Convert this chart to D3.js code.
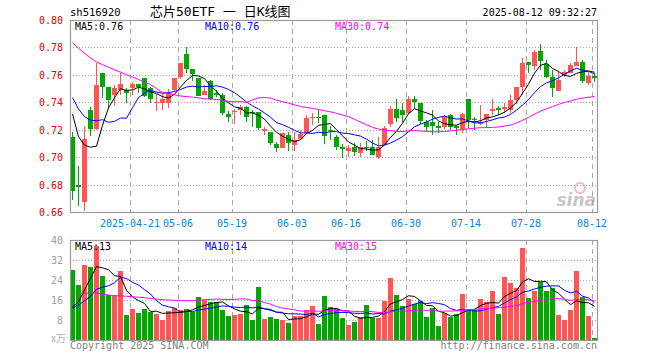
<!DOCTYPE html>
<html><head><meta charset="utf-8">
<script src="https://cdn.jsdelivr.net/npm/d3@7"></script>
<style>body{margin:0;background:#fff}svg{display:block}</style>
</head><body><svg id="c" width="660" height="360"></svg>
<script>
const dates = ["2025-04-07","2025-04-08","2025-04-09","2025-04-10","2025-04-11","2025-04-14","2025-04-15","2025-04-16","2025-04-17","2025-04-18","2025-04-21","2025-04-22","2025-04-23","2025-04-24","2025-04-25","2025-04-28","2025-04-29","2025-04-30",
"2025-05-06","2025-05-07","2025-05-08","2025-05-09","2025-05-12","2025-05-13","2025-05-14","2025-05-15","2025-05-16","2025-05-19","2025-05-20","2025-05-21","2025-05-22","2025-05-23","2025-05-26","2025-05-27","2025-05-28","2025-05-29","2025-05-30",
"2025-06-03","2025-06-04","2025-06-05","2025-06-06","2025-06-09","2025-06-10","2025-06-11","2025-06-12","2025-06-13","2025-06-16","2025-06-17","2025-06-18","2025-06-19","2025-06-20","2025-06-23","2025-06-24","2025-06-25","2025-06-26","2025-06-27","2025-06-30",
"2025-07-01","2025-07-02","2025-07-03","2025-07-04","2025-07-07","2025-07-08","2025-07-09","2025-07-10","2025-07-11","2025-07-14","2025-07-15","2025-07-16","2025-07-17","2025-07-18","2025-07-21","2025-07-22","2025-07-23","2025-07-24","2025-07-25","2025-07-28","2025-07-29","2025-07-30","2025-07-31",
"2025-08-01","2025-08-04","2025-08-05","2025-08-06","2025-08-07","2025-08-08","2025-08-11","2025-08-12"];
const open  = [.7145,.680,.6675,.7344,.7205,.7611,.7511,.7453,.7490,.7490,.7506,.7533,.7575,.7502,.7400,.7397,.7397,.7490,.7587,.7752,.7643,.7575,.7453,.7558,.7471,.7454,.7315,.7330,.7345,.7369,.7328,.7328,.7194,.7186,.7096,.7070,.7162,.7087,.7130,.7179,.7284,.7293,.7308,.7201,.7150,.7072,.7048,.7077,.7028,.7077,.7077,.7002,.7090,.7240,.7350,.7345,.7322,.7424,.7396,.7259,.7254,.7227,.7217,.7307,.7227,.7205,.7424,.7278,.7242,.7271,.7339,.7356,.7351,.7344,.7417,.7514,.7696,.7665,.7774,.7677,.7587,.7485,.7599,.7611,.7665,.7696,.7543,.7594];
const high  = [.7183,.6935,.7227,.7366,.7684,.7615,.7515,.7526,.7611,.7504,.7546,.7533,.7575,.7514,.7458,.7458,.7495,.7580,.7690,.7805,.7645,.7580,.7526,.7560,.7490,.7466,.7337,.7349,.7381,.7374,.7345,.7328,.7223,.7186,.7113,.7179,.7182,.7182,.7199,.7308,.7325,.7345,.7308,.7228,.7162,.7096,.7091,.7100,.7103,.7120,.7125,.7145,.7228,.7375,.7422,.7393,.7445,.7447,.7398,.7273,.7344,.7259,.7310,.7315,.7234,.7320,.7424,.7295,.7380,.7315,.7421,.7373,.7397,.7453,.7514,.7720,.7696,.7781,.7825,.7708,.7635,.7623,.7635,.7684,.7806,.7708,.7623,.7611];
const low   = [.6687,.6646,.6607,.7154,.7200,.7430,.7360,.7373,.7453,.7397,.7453,.7470,.7440,.7392,.7339,.7344,.7360,.7482,.7570,.7611,.7558,.7446,.7450,.7420,.7442,.7308,.7259,.7240,.7308,.7259,.7223,.7195,.7162,.7089,.7040,.7065,.7045,.7045,.7125,.7169,.7235,.7252,.7096,.7126,.7053,.6997,.6999,.7006,.6999,.7042,.7013,.6990,.7085,.7220,.7259,.7259,.7315,.7350,.7242,.7188,.7161,.7174,.7205,.7197,.7161,.7174,.7210,.7198,.7234,.7222,.7307,.7307,.7319,.7320,.7387,.7453,.7611,.7635,.7635,.7575,.7441,.7482,.7587,.7611,.7665,.7538,.7526,.7550];
const close = [.6756,.678,.7132,.7207,.7526,.7514,.7417,.7502,.7533,.7466,.7533,.7514,.7446,.7421,.7404,.7421,.7465,.7579,.7686,.7643,.7604,.7446,.7485,.7421,.7454,.7325,.7296,.7340,.7362,.7291,.7321,.7212,.7203,.7106,.7065,.7174,.7101,.7126,.7167,.7289,.7291,.7289,.7157,.7196,.7077,.7057,.7070,.7035,.7072,.7065,.7016,.7077,.7211,.7350,.7289,.7308,.7424,.7400,.7260,.7222,.7227,.7210,.7302,.7217,.7210,.7315,.7271,.7271,.7259,.7315,.7351,.7344,.7368,.7417,.7514,.7689,.7672,.7769,.7703,.7587,.7502,.7562,.7623,.7672,.7696,.7555,.7594,.7579];
const volume = [28,22,30,29.2,37.6,25.6,18.1,18.1,27.6,10,12.4,10.8,12.4,11.4,10.6,8,11.6,12.9,12,12.5,11.3,17.2,16.2,15.2,15.3,12.1,9.7,10,10.6,14,8,21.3,8.6,9.2,8.4,8,6.8,9.7,9.7,12.1,13.6,6.4,17.6,13.2,12.4,8.8,6,7.1,9.1,14,8.9,8.9,15.7,24.8,18,13.6,16.4,14.3,15.6,9.2,12.9,5.7,10.9,9.2,10.4,18.4,11.5,12,16.4,15.3,19.7,10.4,25.2,22.8,20.8,36.8,16.9,19.7,23.3,19.7,20.9,10,8,12,27.6,17.3,9.6,0.9];
// the 29 sessions before the window, only used for the moving averages (estimated from the MA lines)
const prevClose = [.80,.825,.822,.840,.810,.800,.805,.806,.800,.806,.805,.800,.798,.826,.828,.768,.788,.795,.777,.772,.761,.7692,.7457,.7576,.743,.761,.7437,.7287,.7485];
const prevVolume = [19,27,26,34,39,32,22.5,32,14.5,18,16.5,18,20,19,16.5,14.5,15.5,14.5,15,12,10,12,11,9.8,17.7,12,6.5,5.7,14.3];
const priceTicks = [0.66,0.68,0.70,0.72,0.74,0.76,0.78,0.80];
const volTicks = [8,16,24,32,40];
const tickDates = ["2025-04-21","2025-05-06","2025-05-19","2025-06-03","2025-06-16","2025-06-30","2025-07-14","2025-07-28","2025-08-12"];
const tickLabels = ["2025-04-21","05-06","05-19","06-03","06-16","06-30","07-14","07-28","08-12"];
const maPeriods = [5,10,30];
const maColors = ["#000000","#0000ff","#ff00ff"];
const priceMALabels = ["MA5:0.76","MA10:0.76","MA30:0.74"];
const volMALabels = ["MA5:13","MA10:14","MA30:15"];

const RED = "#ff5555", GREEN = "#00a800", GRID = "#a8a8a8", MONO = "'DejaVu Sans Mono', monospace";
const svg = d3.select("#c");
const L = 70, R = 598, PT = 20, PB = 212, VT = 240, VB = 340;

const x = d3.scaleBand().domain(dates).range([L, R]).paddingInner(0).paddingOuter(0);
const yP = d3.scaleLinear().domain([0.66, 0.80]).range([PB, PT]);
const yV = d3.scaleLinear().domain([0, 40]).range([VB, VT]);

function movingAvg(prev, cur, n) {
  const full = prev.concat(cur), off = prev.length;
  return cur.map((_, i) => d3.mean(full.slice(i + off - n + 1, i + off + 1)));
}

// grids
function hgrid(scale, ticks) {
  svg.append("g").selectAll("line").data(ticks).join("line")
    .attr("x1", L).attr("x2", R)
    .attr("y1", d => Math.round(scale(d)) + 0.5).attr("y2", d => Math.round(scale(d)) + 0.5)
    .attr("stroke", GRID).attr("stroke-dasharray", "1,2");
}
hgrid(yP, priceTicks.slice(1, -1));
hgrid(yV, volTicks.slice(0, -1));
[[PT, PB], [VT, VB]].forEach(([t, b]) => {
  svg.append("g").selectAll("line").data(tickDates).join("line")
    .attr("x1", d => x(d) + 0.5).attr("x2", d => x(d) + 0.5)
    .attr("y1", t).attr("y2", b)
    .attr("stroke", GRID).attr("stroke-dasharray", "5,4");
});

// watermark
const wm = svg.append("g").attr("opacity", 0.55);
wm.append("circle").attr("cx", 580).attr("cy", 188).attr("r", 5).attr("fill", "none").attr("stroke", "#f08080").attr("stroke-width", 2);
wm.append("text").attr("x", 596).attr("y", 206).attr("text-anchor", "end")
  .attr("font-family", "'DejaVu Sans', sans-serif").attr("font-size", 17).attr("font-weight", "bold").attr("font-style", "italic")
  .attr("fill", "#9a9a9a").text("sina");

// candles
const idx = d3.range(dates.length);
const cg = svg.append("g").attr("shape-rendering", "crispEdges");
cg.selectAll("line").data(idx).join("line")
  .attr("x1", i => x(dates[i]) + 2.5).attr("x2", i => x(dates[i]) + 2.5)
  .attr("y1", i => yP(high[i])).attr("y2", i => yP(low[i]))
  .attr("stroke", i => close[i] >= open[i] ? RED : GREEN);
cg.selectAll("rect").data(idx).join("rect")
  .attr("x", i => x(dates[i])).attr("width", 5)
  .attr("y", i => yP(Math.max(open[i], close[i])))
  .attr("height", i => Math.max(1, Math.abs(yP(open[i]) - yP(close[i]))))
  .attr("fill", i => close[i] >= open[i] ? RED : GREEN);

// volume bars
svg.append("g").attr("shape-rendering", "crispEdges").selectAll("rect").data(idx).join("rect")
  .attr("x", i => x(dates[i])).attr("width", 5)
  .attr("y", i => yV(volume[i])).attr("height", i => yV(0) - yV(volume[i]))
  .attr("fill", i => close[i] >= open[i] ? RED : GREEN);

// moving averages
const lineP = d3.line().x((d, i) => x(dates[i]) + 2.5).y(d => yP(d));
const lineV = d3.line().x((d, i) => x(dates[i]) + 2.5).y(d => yV(d));
maPeriods.forEach((n, k) => {
  svg.append("path").attr("d", lineP(movingAvg(prevClose, close, n))).attr("fill", "none").attr("stroke", maColors[k]).attr("stroke-width", 1);
  svg.append("path").attr("d", lineV(movingAvg(prevVolume, volume, n))).attr("fill", "none").attr("stroke", maColors[k]).attr("stroke-width", 1);
});

// frames
[[PT, PB], [VT, VB]].forEach(([t, b]) => {
  svg.append("rect").attr("x", L + 0.5).attr("y", t + 0.5).attr("width", R - L - 1).attr("height", b - t)
    .attr("fill", "none").attr("stroke", "#9c9c9c").attr("stroke-width", 1.2);
});

// axes
const axP = svg.append("g").attr("transform", `translate(${L - 4},0)`)
  .call(d3.axisLeft(yP).tickValues(priceTicks).tickFormat(d3.format(".2f")).tickSize(0));
axP.select(".domain").remove();
axP.selectAll("text").attr("fill", "#e60000").attr("font-family", MONO).attr("font-size", 10).attr("dy", "0.35em");
const axV = svg.append("g").attr("transform", `translate(${L - 4},0)`)
  .call(d3.axisLeft(yV).tickValues(volTicks).tickFormat(d3.format("d")).tickSize(0));
axV.select(".domain").remove();
axV.selectAll("text").attr("fill", "#a0a0a0").attr("font-family", MONO).attr("font-size", 10).attr("dy", "0.35em");
svg.append("text").attr("x", L - 4).attr("y", 342).attr("text-anchor", "end").attr("fill", "#b0b0b0")
  .attr("font-family", "'Noto Sans CJK SC', sans-serif").attr("font-size", 10).text("x万");

const axX = svg.append("g").attr("transform", `translate(0,${PB + 3})`)
  .call(d3.axisBottom(x).tickValues(tickDates).tickFormat((d, i) => tickLabels[i]).tickSize(0));
axX.select(".domain").remove();
axX.selectAll(".tick").attr("transform", d => `translate(${x(d)},0)`);
axX.selectAll("text").attr("fill", "#0a84d0").attr("font-family", MONO).attr("font-size", 10).attr("dy", "0.9em");

// MA legends
const lx = [75, 205, 335];
priceMALabels.forEach((t, k) => svg.append("text").attr("x", lx[k]).attr("y", 30).attr("fill", maColors[k])
  .attr("font-family", MONO).attr("font-size", 10).text(t));
volMALabels.forEach((t, k) => svg.append("text").attr("x", lx[k]).attr("y", 250).attr("fill", maColors[k])
  .attr("font-family", MONO).attr("font-size", 10).text(t));

// header / footer
svg.append("text").attr("x", 70).attr("y", 16).attr("font-family", MONO).attr("font-size", 10.5).attr("fill", "#000").text("sh516920");
svg.append("text").attr("x", 150).attr("y", 16).attr("font-family", "'DejaVu Sans Mono','Noto Sans CJK SC',monospace").attr("font-size", 13).attr("fill", "#000").text("芯片50ETF 一 日K线图");
svg.append("text").attr("x", 597).attr("y", 16).attr("text-anchor", "end").attr("font-family", MONO).attr("font-size", 10).attr("fill", "#000").text("2025-08-12 09:32:27");
svg.append("text").attr("x", 70).attr("y", 349).attr("font-family", MONO).attr("font-size", 10).attr("fill", "#808080").text("Copyright 2025 SINA.COM");
svg.append("text").attr("x", 597).attr("y", 349).attr("text-anchor", "end").attr("font-family", MONO).attr("font-size", 10).attr("fill", "#808080").text("http://finance.sina.com.cn");
</script></body></html>
